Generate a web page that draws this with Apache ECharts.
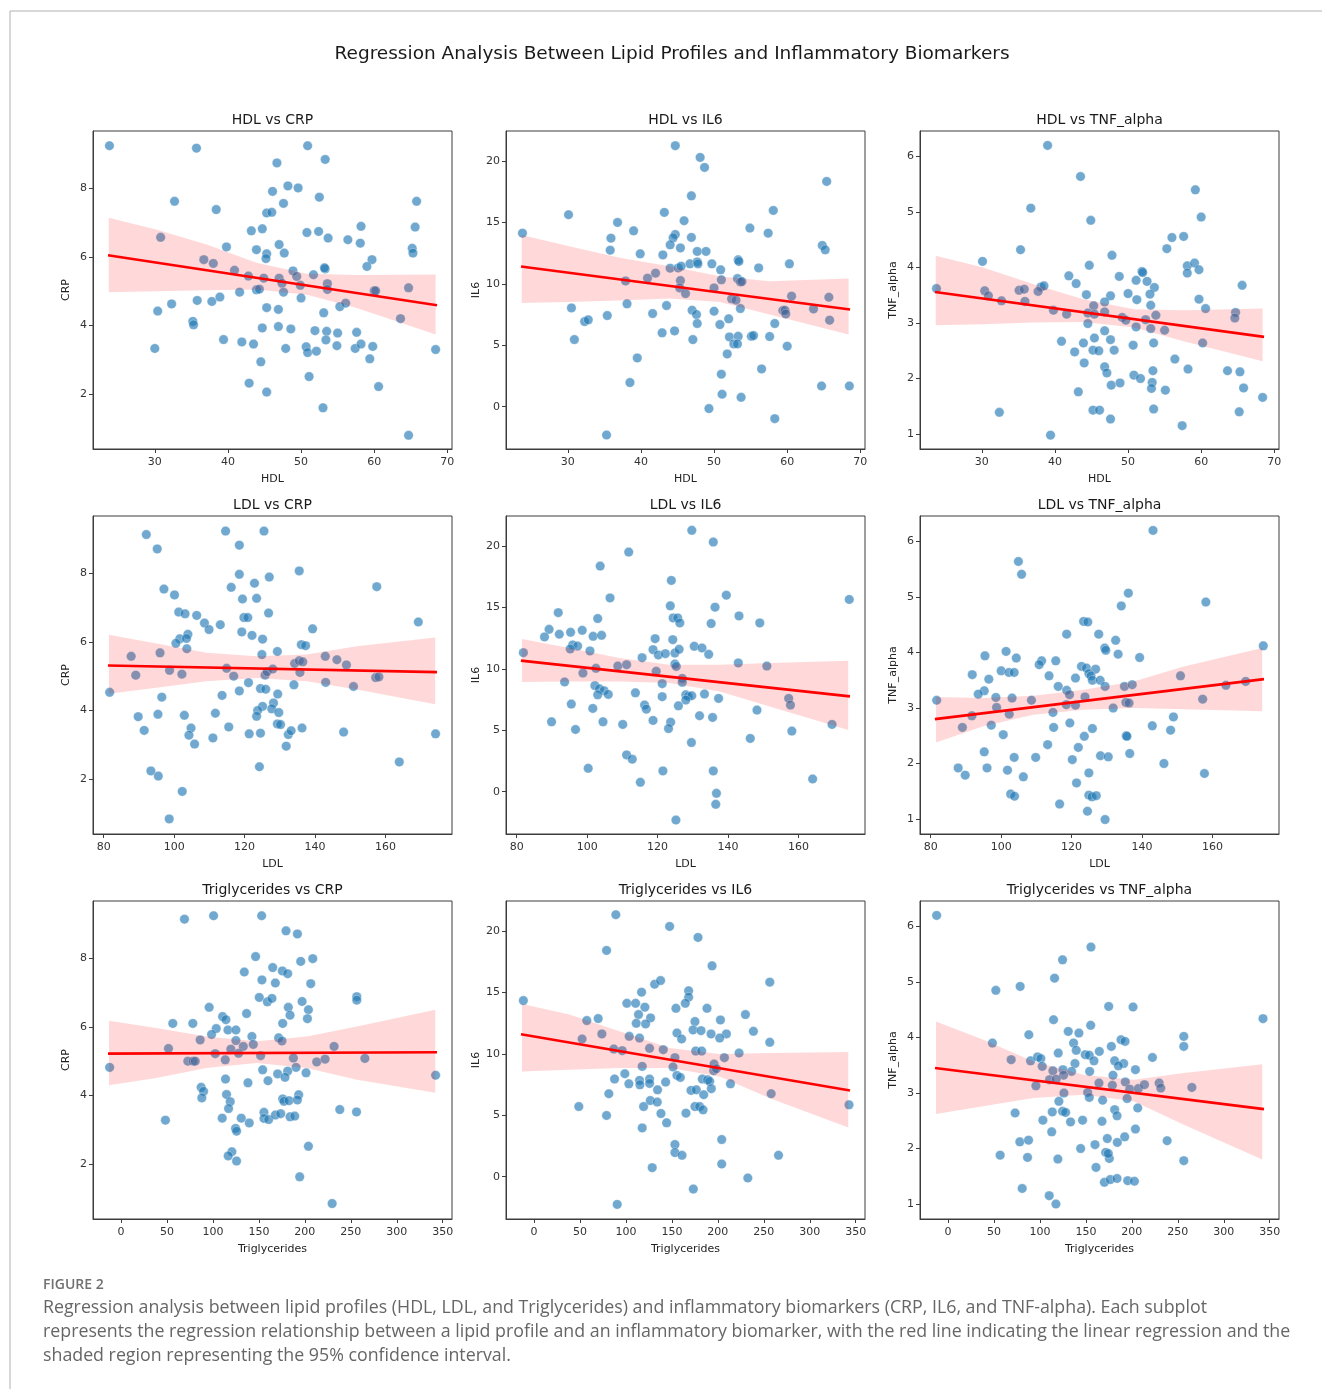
<!DOCTYPE html>
<html><head><meta charset="utf-8">
<script src="https://cdn.jsdelivr.net/npm/echarts@6/dist/echarts.min.js"></script>
<style>html,body{margin:0;padding:0;background:#fff}#c{width:1322px;height:1389px}</style>
</head><body><div id="c"></div>
<script>
// ---------- axis ranges and ticks ----------
const hdlRange = [21.55, 70.64];
const ldlRange = [76.97, 178.86];
const tgRange = [-30.5, 360.1];
const crpRange = [0.40, 9.67];
const il6Range = [-3.45, 22.45];
const tnfRange = [0.73, 6.46];
const hdlTicks = [30, 40, 50, 60, 70];
const ldlTicks = [80, 100, 120, 140, 160];
const tgTicks = [0, 50, 100, 150, 200, 250, 300, 350];
const crpTicks = [2, 4, 6, 8];
const il6Ticks = [0, 5, 10, 15, 20];
const tnfTicks = [1, 2, 3, 4, 5, 6];

// ---------- scatter data ----------
const hdlCrp = [[23.8,9.24],[35.7,9.17],[50.9,9.24],[46.7,8.74],[53.3,8.84],[48.2,8.07],[49.6,8.01],[46.1,7.91],[52.5,7.74],[32.7,7.62],[47.6,7.56],[65.8,7.62],[38.4,7.38],[45.3,7.28],[46.0,7.30],[43.2,6.76],[44.7,6.82],[50.8,6.71],[52.4,6.74],[58.2,6.89],[65.6,6.87],[30.8,6.57],[53.7,6.55],[56.4,6.50],[58.1,6.40],[39.8,6.29],[47.0,6.36],[43.9,6.21],[47.7,6.11],[45.3,6.09],[45.2,5.95],[65.2,6.25],[65.3,6.11],[36.7,5.92],[38.0,5.81],[59.7,5.92],[59.0,5.72],[40.9,5.61],[42.8,5.44],[44.9,5.38],[47.0,5.38],[48.9,5.59],[49.4,5.43],[51.7,5.48],[53.3,5.65],[53.2,5.68],[47.4,5.23],[49.9,5.17],[53.6,5.22],[53.6,5.05],[41.6,4.97],[43.9,5.04],[44.3,5.06],[47.6,4.97],[60.0,5.01],[60.2,5.01],[64.7,5.10],[50.0,4.80],[30.4,4.42],[32.3,4.63],[35.8,4.73],[37.8,4.70],[38.9,4.83],[45.3,4.52],[46.9,4.47],[53.1,4.37],[55.3,4.55],[56.1,4.65],[35.2,4.12],[35.3,4.02],[44.7,3.93],[46.9,3.97],[48.6,3.90],[51.9,3.85],[53.5,3.83],[55.0,3.78],[57.6,3.80],[63.6,4.20],[30.0,3.33],[39.4,3.59],[41.9,3.52],[43.5,3.46],[47.9,3.33],[50.7,3.38],[50.9,3.21],[52.1,3.25],[53.4,3.58],[54.9,3.41],[57.4,3.33],[58.2,3.46],[59.8,3.39],[59.4,3.03],[68.4,3.30],[44.5,2.94],[42.9,2.32],[45.3,2.06],[51.1,2.51],[60.6,2.22],[53.0,1.60],[64.7,0.80]];
const hdlIl6 = [[23.8,14.13],[44.7,21.25],[48.1,20.30],[48.7,19.48],[65.4,18.34],[46.9,17.17],[30.1,15.63],[43.2,15.82],[58.1,15.98],[36.8,15.0],[45.9,15.14],[39.0,14.32],[54.9,14.54],[57.4,14.13],[35.9,13.72],[44.7,14.02],[44.4,13.75],[46.9,13.78],[44.0,13.18],[45.4,12.93],[35.8,12.74],[39.9,12.45],[43.0,12.36],[47.7,12.64],[48.9,12.64],[64.8,13.13],[65.2,12.77],[46.7,11.63],[47.7,11.79],[47.8,11.63],[49.7,11.63],[44.0,11.28],[45.1,11.30],[45.5,11.44],[50.9,11.14],[53.3,11.96],[53.4,11.82],[56.1,11.30],[60.3,11.63],[40.9,10.46],[42.0,10.87],[37.9,10.24],[45.4,10.27],[51.0,10.33],[53.2,10.43],[53.6,10.16],[53.8,10.19],[45.3,9.67],[46.1,9.21],[50.0,9.67],[52.4,8.78],[53.0,8.67],[60.6,9.0],[65.7,8.91],[30.5,8.04],[38.1,8.37],[43.5,8.23],[47.0,7.85],[50.0,7.77],[53.6,7.99],[59.4,7.83],[59.7,7.85],[59.8,7.55],[63.6,7.96],[32.3,6.93],[32.8,7.07],[35.4,7.42],[41.6,7.58],[47.6,7.50],[47.7,6.77],[50.8,6.68],[52.0,7.15],[58.3,6.77],[65.8,7.04],[30.9,5.46],[42.9,6.01],[44.6,6.17],[47.1,5.46],[52.1,5.68],[53.3,5.73],[55.1,5.73],[55.4,5.79],[57.6,5.71],[52.7,5.11],[53.2,5.11],[60.0,4.92],[39.5,3.97],[51.8,4.29],[56.5,3.07],[51.0,2.64],[38.5,1.96],[64.7,1.68],[68.5,1.68],[51.1,1.01],[53.7,0.76],[49.3,-0.16],[58.3,-0.98],[35.3,-2.31]];
const hdlTnf = [[23.8,3.62],[39.0,6.20],[43.5,5.64],[59.2,5.40],[36.7,5.07],[60.0,4.91],[44.9,4.85],[56.0,4.54],[57.6,4.56],[55.3,4.34],[35.3,4.32],[30.1,4.11],[47.8,4.22],[44.7,4.04],[58.1,4.03],[59.1,4.08],[58.1,3.90],[59.7,3.96],[51.9,3.93],[52.0,3.91],[41.9,3.85],[48.8,3.84],[51.1,3.77],[52.6,3.75],[42.9,3.71],[38.1,3.65],[38.5,3.67],[53.6,3.64],[65.6,3.68],[30.4,3.58],[30.9,3.49],[35.1,3.59],[35.8,3.61],[37.7,3.57],[50.0,3.53],[53.0,3.52],[44.3,3.51],[47.6,3.49],[51.2,3.42],[32.7,3.40],[35.9,3.39],[46.8,3.38],[53.1,3.32],[45.3,3.31],[59.7,3.43],[60.6,3.26],[39.8,3.23],[41.6,3.16],[44.5,3.18],[45.4,3.16],[46.8,3.20],[49.2,3.10],[49.7,3.05],[52.4,3.06],[53.8,3.14],[64.7,3.19],[64.6,3.09],[44.5,2.99],[51.1,2.93],[53.1,2.90],[55.0,2.87],[46.8,2.86],[40.9,2.67],[43.9,2.64],[45.4,2.73],[47.6,2.70],[60.2,2.64],[53.5,2.64],[42.7,2.48],[45.2,2.51],[46.0,2.50],[48.1,2.51],[50.7,2.60],[44.0,2.28],[56.4,2.35],[46.8,2.21],[47.1,2.10],[50.8,2.06],[51.7,2.00],[58.2,2.17],[63.6,2.14],[65.3,2.12],[53.4,2.14],[53.3,1.93],[53.2,1.82],[47.7,1.88],[48.9,1.92],[55.1,1.79],[65.8,1.83],[68.4,1.66],[43.2,1.76],[45.2,1.43],[46.1,1.43],[53.5,1.45],[47.6,1.27],[57.4,1.15],[65.2,1.40],[32.4,1.39],[39.4,0.98]];
const ldlCrp = [[92.1,9.13],[114.6,9.23],[125.5,9.23],[95.2,8.71],[118.5,8.82],[135.5,8.07],[118.5,7.97],[127.0,7.89],[157.5,7.61],[97.1,7.54],[100.1,7.37],[116.2,7.59],[122.8,7.71],[119.4,7.25],[123.4,7.27],[101.3,6.87],[103.1,6.82],[106.4,6.77],[108.6,6.55],[109.9,6.36],[113.1,6.50],[119.8,6.71],[120.9,6.71],[126.8,6.84],[139.3,6.38],[169.3,6.58],[119.2,6.29],[122.1,6.19],[103.9,6.22],[101.6,6.09],[103.5,6.10],[100.5,5.96],[125.1,6.08],[87.8,5.58],[96.0,5.68],[103.6,5.80],[124.9,5.63],[129.3,5.72],[136.1,5.92],[137.3,5.89],[134.2,5.37],[135.5,5.45],[136.5,5.42],[142.9,5.58],[146.2,5.48],[148.9,5.33],[89.1,5.03],[98.7,5.17],[102.2,5.06],[114.9,5.23],[116.9,5.00],[121.1,4.81],[125.8,5.03],[126.4,5.13],[128.0,5.21],[135.7,5.11],[157.2,4.96],[158.1,4.98],[143.0,4.82],[150.9,4.70],[134.0,4.75],[81.7,4.53],[96.5,4.39],[113.6,4.44],[118.5,4.57],[124.5,4.64],[126.0,4.62],[129.4,4.48],[89.8,3.82],[95.4,3.89],[102.9,3.86],[111.7,3.92],[128.2,4.22],[127.7,4.05],[129.7,3.94],[125.1,4.12],[123.7,4.00],[123.4,3.83],[91.5,3.42],[104.8,3.49],[104.2,3.28],[105.8,3.02],[111.0,3.20],[115.5,3.52],[121.3,3.32],[124.5,3.34],[129.3,3.61],[130.2,3.59],[132.4,3.30],[133.2,3.41],[136.3,3.49],[131.8,2.96],[148.1,3.37],[174.2,3.32],[93.4,2.24],[95.5,2.09],[124.2,2.36],[163.9,2.50],[102.3,1.64],[98.6,0.84]];
const ldlIl6 = [[129.7,21.28],[135.8,20.33],[111.8,19.51],[103.7,18.37],[123.9,17.20],[139.5,16.0],[106.5,15.78],[174.4,15.65],[123.6,15.13],[136.3,15.02],[91.8,14.58],[103.0,14.10],[124.4,14.15],[125.7,14.15],[126.3,13.74],[135.2,13.69],[143.1,14.31],[149.0,13.74],[89.2,13.22],[98.6,13.14],[87.9,12.60],[92.1,12.82],[95.3,12.98],[101.7,12.65],[104.1,12.73],[119.3,12.46],[124.3,12.38],[95.9,11.95],[97.3,11.86],[95.2,11.62],[100.8,11.46],[130.4,11.84],[132.6,11.70],[134.5,11.18],[118.7,11.56],[120.2,11.13],[122.2,11.24],[124.9,11.29],[126.1,11.59],[81.9,11.32],[115.6,10.91],[108.7,10.23],[111.2,10.34],[102.5,10.04],[124.9,10.39],[125.3,10.20],[142.9,10.48],[151.0,10.23],[98.8,9.66],[119.6,9.80],[127.0,9.22],[127.0,8.90],[121.3,8.79],[93.6,8.93],[102.2,8.63],[103.5,8.38],[104.8,8.22],[106.0,7.92],[103.0,7.89],[113.7,8.05],[121.3,7.73],[128.0,7.89],[128.7,7.76],[129.7,7.81],[128.0,7.46],[133.3,7.95],[137.3,7.59],[157.2,7.59],[157.7,7.05],[95.5,7.13],[101.6,6.78],[116.3,7.05],[116.8,6.72],[125.9,6.99],[131.9,6.18],[135.6,6.04],[148.2,6.64],[89.9,5.69],[96.7,5.06],[104.5,5.69],[110.1,5.47],[118.7,5.80],[123.7,5.66],[123.1,5.14],[158.1,4.93],[169.5,5.47],[129.6,4.0],[146.3,4.33],[111.2,2.99],[112.8,2.64],[100.3,1.90],[121.5,1.69],[135.8,1.69],[164.0,1.03],[115.1,0.76],[136.7,-0.14],[136.5,-1.03],[125.2,-2.31]];
const ldlTnf = [[143.1,6.20],[104.9,5.64],[105.8,5.41],[136.1,5.07],[134.1,4.84],[158.1,4.91],[123.4,4.56],[124.6,4.55],[118.6,4.33],[127.7,4.33],[132.5,4.22],[129.4,4.08],[129.7,4.04],[133.2,3.97],[139.3,3.91],[174.4,4.12],[95.4,3.94],[101.4,4.02],[104.3,3.90],[111.5,3.85],[110.8,3.78],[115.5,3.85],[122.8,3.75],[124.2,3.72],[126.8,3.70],[124.9,3.62],[125.5,3.58],[100.0,3.67],[102.2,3.64],[103.7,3.64],[91.8,3.60],[96.5,3.52],[113.6,3.58],[121.1,3.54],[125.9,3.50],[128.1,3.50],[150.9,3.58],[116.2,3.39],[118.6,3.32],[119.4,3.24],[129.5,3.39],[135.0,3.39],[137.2,3.42],[163.8,3.41],[169.4,3.48],[95.2,3.31],[93.5,3.25],[98.5,3.19],[103.1,3.18],[108.6,3.14],[123.8,3.20],[81.7,3.14],[118.5,3.06],[121.1,3.05],[135.4,3.10],[136.3,3.09],[157.2,3.16],[98.7,3.01],[131.8,3.00],[91.7,2.86],[102.3,2.89],[114.7,2.92],[148.9,2.84],[89.0,2.65],[97.2,2.69],[114.9,2.65],[119.5,2.73],[125.9,2.63],[142.9,2.68],[148.1,2.60],[100.6,2.52],[123.6,2.49],[135.5,2.50],[135.7,2.49],[113.2,2.34],[121.9,2.29],[95.2,2.21],[103.7,2.11],[109.8,2.11],[120.2,2.07],[128.2,2.14],[130.4,2.12],[136.5,2.18],[146.2,2.00],[87.8,1.92],[89.8,1.79],[96.0,1.92],[101.8,1.88],[106.3,1.76],[124.9,1.83],[157.7,1.82],[121.4,1.65],[102.7,1.45],[103.8,1.41],[124.9,1.43],[125.8,1.40],[127.0,1.42],[116.6,1.27],[124.5,1.14],[129.5,0.99]];
const tgCrp = [[-12.4,4.82],[69.0,9.14],[100.7,9.24],[153.0,9.24],[179.5,8.80],[191.9,8.71],[146.4,8.05],[195.5,7.91],[208.6,7.99],[165.0,7.73],[175.5,7.63],[181.3,7.55],[134.1,7.60],[153.3,7.37],[167.9,7.28],[206.4,7.26],[150.4,6.86],[159.2,6.73],[164.2,6.83],[197.0,6.74],[256.5,6.88],[256.5,6.78],[182.0,6.57],[203.9,6.50],[95.9,6.57],[110.5,6.30],[114.1,6.21],[136.6,6.39],[183.9,6.34],[202.8,6.24],[56.3,6.10],[78.1,6.10],[175.9,6.10],[103.6,5.95],[98.5,5.78],[116.3,5.91],[125.0,5.91],[142.4,5.72],[125.0,5.60],[86.1,5.62],[171.5,5.68],[175.1,5.59],[51.6,5.37],[119.5,5.35],[133.0,5.43],[143.9,5.49],[231.8,5.43],[102.5,5.22],[127.9,5.23],[151.9,5.16],[72.7,5.00],[78.5,5.00],[80.7,5.00],[113.4,5.04],[187.5,5.09],[190.4,4.82],[212.9,4.98],[222.0,5.06],[265.3,5.08],[154.1,4.75],[170.4,4.63],[181.3,4.71],[178.4,4.53],[201.3,4.66],[342.3,4.59],[113.7,4.48],[138.1,4.37],[159.9,4.43],[87.2,4.24],[89.8,4.12],[87.9,3.93],[114.8,4.03],[118.8,3.82],[117.0,3.62],[175.9,3.90],[177.3,3.83],[182.8,3.85],[193.3,4.02],[191.9,3.87],[48.3,3.28],[110.1,3.34],[130.8,3.34],[139.5,3.20],[155.5,3.51],[155.5,3.33],[160.6,3.30],[167.9,3.43],[173.7,3.47],[183.9,3.38],[189.0,3.40],[124.6,3.04],[125.7,2.96],[238.0,3.59],[256.2,3.52],[120.6,2.36],[116.6,2.24],[125.7,2.09],[203.9,2.52],[194.4,1.63],[229.7,0.85]];
const tgIl6 = [[-11.6,14.34],[89.0,21.33],[147.5,20.38],[178.4,19.48],[78.9,18.42],[193.7,17.17],[131.2,15.67],[137.7,15.97],[256.5,15.84],[117.0,15.02],[168.2,15.13],[168.2,14.61],[164.6,14.12],[101.0,14.12],[110.5,14.12],[120.6,13.80],[154.4,13.71],[188.2,13.71],[57.4,12.71],[69.8,12.87],[113.7,13.20],[126.8,12.93],[111.2,12.49],[121.4,12.44],[175.1,12.63],[202.8,12.76],[230.0,13.20],[173.0,11.95],[181.7,11.89],[192.6,11.62],[155.5,11.70],[209.3,11.62],[238.7,11.84],[73.8,11.62],[52.3,11.21],[103.6,11.43],[114.8,11.29],[160.6,11.21],[202.0,11.29],[256.5,10.94],[86.8,10.39],[95.9,10.26],[125.7,10.45],[140.6,10.34],[175.9,10.23],[182.4,10.23],[223.1,10.07],[153.3,9.69],[207.1,9.69],[117.7,8.98],[151.2,8.93],[195.9,9.17],[195.5,8.63],[198.4,8.79],[155.5,8.24],[159.2,8.08],[98.8,8.38],[87.6,7.95],[103.2,7.56],[114.8,7.84],[115.2,7.48],[125.7,7.95],[125.7,7.59],[143.2,7.70],[183.1,7.95],[188.9,7.89],[191.1,7.76],[213.7,7.56],[134.4,7.07],[170.8,7.02],[176.6,7.07],[192.9,7.16],[184.6,6.67],[81.4,6.75],[258.0,6.75],[48.7,5.71],[78.9,4.98],[119.2,5.71],[126.5,6.20],[134.1,6.07],[175.1,5.71],[180.2,5.71],[183.9,5.44],[138.1,5.14],[144.3,4.38],[165.3,5.17],[342.7,5.85],[117.7,3.97],[204.2,3.02],[153.3,2.61],[153.3,1.96],[161.0,1.74],[266.0,1.74],[204.2,1.03],[128.6,0.73],[232.6,-0.11],[173.3,-1.01],[90.5,-2.26]];
const tgTnf = [[-12.4,6.20],[155.5,5.63],[124.6,5.40],[115.9,5.07],[52.0,4.85],[78.5,4.92],[174.8,4.56],[201.3,4.55],[342.7,4.34],[114.8,4.32],[155.2,4.22],[130.8,4.11],[142.4,4.08],[87.9,4.05],[256.5,4.02],[48.3,3.90],[136.6,3.90],[188.2,3.96],[192.6,3.93],[256.5,3.84],[177.7,3.84],[139.5,3.77],[164.6,3.75],[119.9,3.72],[149.3,3.69],[153.7,3.68],[222.4,3.64],[68.7,3.60],[89.8,3.58],[97.4,3.65],[101.0,3.62],[158.8,3.58],[181.3,3.58],[191.1,3.53],[185.3,3.49],[138.1,3.53],[102.5,3.48],[114.1,3.40],[125.0,3.42],[134.4,3.39],[154.1,3.39],[203.9,3.42],[179.5,3.32],[125.7,3.32],[110.5,3.24],[117.7,3.25],[95.6,3.13],[164.2,3.18],[178.8,3.14],[192.9,3.20],[197.7,3.07],[207.1,3.08],[213.7,3.15],[229.7,3.18],[231.5,3.09],[265.3,3.10],[126.1,3.00],[151.9,3.01],[153.7,2.92],[168.2,2.87],[194.8,2.90],[120.6,2.85],[206.4,2.73],[73.0,2.64],[113.4,2.66],[124.6,2.67],[127.9,2.65],[181.3,2.70],[183.9,2.59],[103.2,2.51],[133.3,2.48],[146.4,2.51],[167.5,2.49],[112.8,2.30],[203.9,2.35],[78.1,2.12],[87.6,2.15],[173.3,2.18],[184.2,2.11],[192.2,2.21],[238.4,2.14],[159.9,2.07],[144.3,2.00],[171.5,1.93],[175.5,1.82],[174.4,1.91],[56.7,1.88],[86.5,1.84],[119.5,1.81],[161.0,1.66],[256.5,1.78],[170.1,1.39],[176.6,1.44],[183.9,1.46],[195.5,1.42],[202.8,1.41],[80.7,1.28],[110.1,1.15],[117.4,1.0]];

// ---------- regression lines (end points) ----------
const lineHdlCrp = [[23.6,6.05],[68.6,4.59]];
const lineHdlIl6 = [[23.6,11.41],[68.6,7.91]];
const lineHdlTnf = [[23.6,3.56],[68.6,2.75]];
const lineLdlCrp = [[81.2,5.31],[174.6,5.12]];
const lineLdlIl6 = [[81.2,10.67],[174.6,7.76]];
const lineLdlTnf = [[81.2,2.80],[174.6,3.52]];
const lineTgCrp = [[-14.2,5.22],[343.8,5.26]];
const lineTgIl6 = [[-14.2,11.59],[343.8,7.02]];
const lineTgTnf = [[-14.2,3.45],[343.8,2.71]];

// ---------- 95% confidence bands (read at several x positions) ----------
const bandXHdl = [23.7, 30.2, 37.1, 43.9, 50.8, 57.6, 68.4];
const bandXLdl = [81.5, 95.0, 109.2, 123.4, 137.6, 151.8, 174.1];
const bandXTg = [-13.1, 38.5, 93.0, 147.5, 202.0, 256.5, 341.9];
const bandUpHdlCrp = [7.14, 6.80, 6.36, 5.83, 5.51, 5.47, 5.49];
const bandLoHdlCrp = [4.97, 5.00, 5.03, 5.05, 4.90, 4.51, 3.74];
const bandUpHdlIl6 = [13.97, 13.07, 12.12, 11.44, 10.63, 10.22, 10.43];
const bandLoHdlIl6 = [8.45, 8.53, 8.64, 8.80, 8.53, 7.50, 5.87];
const bandUpHdlTnf = [4.21, 4.00, 3.70, 3.43, 3.25, 3.23, 3.26];
const bandLoHdlTnf = [2.96, 2.98, 3.01, 3.02, 2.92, 2.67, 2.31];
const bandUpLdlCrp = [6.21, 5.95, 5.68, 5.58, 5.63, 5.87, 6.13];
const bandLoLdlCrp = [4.49, 4.66, 4.85, 4.95, 4.85, 4.61, 4.18];
const bandUpLdlIl6 = [12.44, 11.70, 10.88, 10.34, 10.34, 10.48, 10.67];
const bandLoLdlIl6 = [8.93, 8.98, 8.98, 8.84, 8.16, 6.94, 5.03];
const bandUpLdlTnf = [3.20, 3.18, 3.22, 3.33, 3.48, 3.75, 4.08];
const bandLoLdlTnf = [2.38, 2.67, 2.88, 2.97, 3.00, 2.98, 2.94];
const bandUpTgCrp = [6.18, 5.97, 5.72, 5.58, 5.72, 6.01, 6.50];
const bandLoTgCrp = [4.30, 4.51, 4.80, 4.95, 4.80, 4.46, 4.08];
const bandUpTgIl6 = [14.07, 13.20, 11.84, 10.48, 9.99, 10.07, 10.15];
const bandLoTgIl6 = [8.57, 8.71, 8.84, 8.84, 8.16, 6.39, 4.00];
const bandUpTgTnf = [4.29, 3.96, 3.57, 3.33, 3.24, 3.36, 3.52];
const bandLoTgTnf = [2.62, 2.76, 2.91, 2.97, 2.85, 2.43, 1.80];

// ---------- texts ----------
const mainTitle = 'Regression Analysis Between Lipid Profiles and Inflammatory Biomarkers';
const figureLabel = 'FIGURE 2';
const captionLines = [
  'Regression analysis between lipid profiles (HDL, LDL, and Triglycerides) and inflammatory biomarkers (CRP, IL6, and TNF-alpha). Each subplot',
  'represents the regression relationship between a lipid profile and an inflammatory biomarker, with the red line indicating the linear regression and the',
  'shaded region representing the 95% confidence interval.'
];

const lipids = [
  {name:'HDL', range:hdlRange, ticks:hdlTicks, bx:bandXHdl},
  {name:'LDL', range:ldlRange, ticks:ldlTicks, bx:bandXLdl},
  {name:'Triglycerides', range:tgRange, ticks:tgTicks, bx:bandXTg}
];
const markers = [
  {name:'CRP', range:crpRange, ticks:crpTicks},
  {name:'IL6', range:il6Range, ticks:il6Ticks},
  {name:'TNF_alpha', range:tnfRange, ticks:tnfTicks}
];
const panelData = [
  [[hdlCrp,lineHdlCrp,bandUpHdlCrp,bandLoHdlCrp],[hdlIl6,lineHdlIl6,bandUpHdlIl6,bandLoHdlIl6],[hdlTnf,lineHdlTnf,bandUpHdlTnf,bandLoHdlTnf]],
  [[ldlCrp,lineLdlCrp,bandUpLdlCrp,bandLoLdlCrp],[ldlIl6,lineLdlIl6,bandUpLdlIl6,bandLoLdlIl6],[ldlTnf,lineLdlTnf,bandUpLdlTnf,bandLoLdlTnf]],
  [[tgCrp,lineTgCrp,bandUpTgCrp,bandLoTgCrp],[tgIl6,lineTgIl6,bandUpTgIl6,bandLoTgIl6],[tgTnf,lineTgTnf,bandUpTgTnf,bandLoTgTnf]]
];

// ---------- layout ----------
const colLeft = [93, 506, 920];
const rowTop = [131, 516, 901];
const plotW = 359, plotH = 318;
const FONT = '"DejaVu Sans", sans-serif';
const axisColor = '#3c3c3c';

const grids = [], xAxes = [], yAxes = [], series = [], graphics = [];
let idx = 0;
for (let r = 0; r < 3; r++) {
  for (let c = 0; c < 3; c++) {
    const L = lipids[r], M = markers[c];
    const [pts, line, up, lo] = panelData[r][c];
    grids.push({left: colLeft[c], top: rowTop[r], width: plotW, height: plotH,
      show: true, borderColor: axisColor, borderWidth: 1, backgroundColor: 'transparent'});
    xAxes.push({type:'value', gridIndex: idx, min: L.range[0], max: L.range[1],
      name: L.name, nameLocation: 'middle', nameGap: 25,
      nameTextStyle: {fontFamily: FONT, fontSize: 11, color: '#222'},
      axisLine: {show: true, onZero: false, lineStyle: {color: axisColor, width: 1}},
      axisTick: {show: true, inside: false, length: 4, customValues: L.ticks, lineStyle: {color: axisColor}},
      axisLabel: {show: true, customValues: L.ticks, margin: 8, fontFamily: FONT, fontSize: 11, color: '#333',
        formatter: v => String(v)},
      splitLine: {show: false}});
    yAxes.push({type:'value', gridIndex: idx, min: M.range[0], max: M.range[1],
      name: M.name, nameLocation: 'middle', nameGap: 21, nameRotate: 90,
      nameTextStyle: {fontFamily: FONT, fontSize: 11, color: '#222'},
      axisLine: {show: true, onZero: false, lineStyle: {color: axisColor, width: 1}},
      axisTick: {show: true, inside: false, length: 4, customValues: M.ticks, lineStyle: {color: axisColor}},
      axisLabel: {show: true, customValues: M.ticks, margin: 6, fontFamily: FONT, fontSize: 11, color: '#333',
        formatter: v => String(v)},
      splitLine: {show: false}});
    series.push({type:'scatter', xAxisIndex: idx, yAxisIndex: idx, data: pts, symbolSize: 9.5,
      itemStyle: {color: 'rgba(31,119,180,0.8)', borderColor: 'rgba(255,255,255,0.7)', borderWidth: 0.6},
      emphasis: {disabled: true}, z: 2, silent: true, animation: false});
    const bx = L.bx;
    series.push({type:'custom', xAxisIndex: idx, yAxisIndex: idx, data: [[bx[0], lo[0]]],
      renderItem: (params, api) => {
        const points = [];
        for (let k = 0; k < bx.length; k++) points.push(api.coord([bx[k], up[k]]));
        for (let k = bx.length - 1; k >= 0; k--) points.push(api.coord([bx[k], lo[k]]));
        return {type: 'polygon', shape: {points: points}, style: {fill: 'rgba(255,0,0,0.15)', stroke: 'none'}};
      }, z: 3, silent: true, animation: false});
    series.push({type:'line', xAxisIndex: idx, yAxisIndex: idx, data: line, showSymbol: false, symbol: 'none',
      lineStyle: {color: '#ff0000', width: 2.6}, z: 4, silent: true, animation: false});
    graphics.push({type: 'text', silent: true, style: {
      text: L.name + ' vs ' + M.name, x: colLeft[c] + plotW / 2, y: rowTop[r] - 11,
      align: 'center', verticalAlign: 'middle', fontFamily: FONT, fontSize: 14, fill: '#1a1a1a'}});
    idx++;
  }
}

graphics.push({type: 'text', silent: true, style: {text: mainTitle, x: 672, y: 54,
  align: 'center', verticalAlign: 'middle', fontFamily: FONT, fontSize: 18.5, fill: '#1a1a1a'}});
graphics.push({type: 'line', silent: true, shape: {x1: 10, y1: 11, x2: 1322, y2: 11}, style: {stroke: '#b0b0b0', lineWidth: 1}});
graphics.push({type: 'line', silent: true, shape: {x1: 10, y1: 11, x2: 10, y2: 1389}, style: {stroke: '#b0b0b0', lineWidth: 1}});
graphics.push({type: 'text', silent: true, style: {text: figureLabel, x: 43, y: 1285,
  align: 'left', verticalAlign: 'middle', fontFamily: '"Open Sans", sans-serif', fontSize: 14, fontWeight: 600, fill: '#707070'}});
captionLines.forEach((t, i) => {
  graphics.push({type: 'text', silent: true, style: {text: t, x: 43, y: 1308 + i * 24,
    align: 'left', verticalAlign: 'middle', fontFamily: '"Open Sans", sans-serif', fontSize: 17.8, fill: '#666666'}});
});

const chart = echarts.init(document.getElementById('c'), null, {renderer: 'canvas'});
chart.setOption({
  animation: false,
  backgroundColor: '#ffffff',
  grid: grids, xAxis: xAxes, yAxis: yAxes, series: series,
  graphic: graphics
});
</script>
</body></html>
